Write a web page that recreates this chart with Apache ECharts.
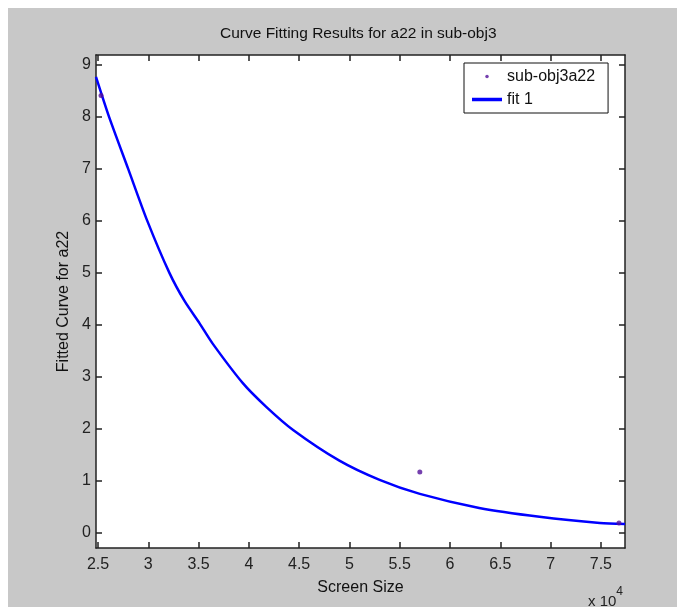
<!DOCTYPE html>
<html>
<head>
<meta charset="utf-8">
<script src="https://cdn.jsdelivr.net/npm/echarts@6/dist/echarts.min.js"></script>
<style>
  body { margin: 0; background: #fff; }
  #center { width: 677px; height: 607px; }
</style>
</head>
<body>
<div id="center"></div>
<script>
// 数据 (x 轴单位: 10^4)
var pointX = [2.53, 5.7, 7.68];
var pointY = [8.41, 1.17, 0.19];
var fitX = [2.48, 2.61, 2.8, 2.99, 3.21, 3.36, 3.51, 3.64, 3.94, 4.17, 4.44, 4.9, 5.3, 5.7, 6.29, 6.89, 7.49, 7.74];
var fitY = [8.77, 8.0, 7.0, 6.0, 5.0, 4.46, 4.03, 3.64, 2.88, 2.43, 1.98, 1.39, 1.02, 0.75, 0.48, 0.31, 0.19, 0.17];
var xTicks = [2.5, 3, 3.5, 4, 4.5, 5, 5.5, 6, 6.5, 7, 7.5];
var yTicks = [0, 1, 2, 3, 4, 5, 6, 7, 8, 9];

var myChart = echarts.init(document.getElementById("center"), null, {
  width: 677,
  height: 607,
});

var font = "Liberation Sans";
var axisColor = "#222";

function pairs(xs, ys) {
  var out = [];
  for (var i = 0; i < xs.length; i++) out.push([xs[i], ys[i]]);
  return out;
}

// 四边都有刻度, 只在左/下显示标签
function makeAxis(pos, isX, showLabel) {
  return {
    type: "value",
    position: pos,
    min: isX ? 2.48 : -0.29,
    max: isX ? 7.74 : 9.19,
    name: showLabel ? (isX ? "Screen Size" : "Fitted Curve for a22") : "",
    nameLocation: "middle",
    nameGap: isX ? 32 : 24,
    nameTextStyle: { fontFamily: font, fontSize: 16, color: "#111" },
    axisLine: { show: true, onZero: false, lineStyle: { color: axisColor, width: 1.5 } },
    axisTick: {
      show: true,
      inside: true,
      length: 6,
      customValues: isX ? xTicks : yTicks,
      lineStyle: { color: axisColor, width: 1.5 },
    },
    axisLabel: {
      show: showLabel,
      customValues: isX ? xTicks : yTicks,
      margin: isX ? 9 : 5,
      fontFamily: font,
      fontSize: 16,
      color: "#222",
    },
    splitLine: { show: false },
  };
}

var option = {
  animation: false,
  backgroundColor: "#fff",
  title: {
    text: "Curve Fitting Results for a22 in sub-obj3",
    left: 215,
    top: 21,
    textStyle: { fontFamily: font, fontSize: 15.5, fontWeight: "normal", color: "#111" },
  },
  graphic: [
    // 灰色窗口背景
    { type: "rect", left: 8, top: 8, z: -10, shape: { width: 669, height: 599 }, style: { fill: "#c8c8c8" } },
    {
      type: "text",
      left: 588,
      top: 586,
      style: {
        text: "{a|x 10}{b|4}",
        rich: {
          a: { fontFamily: font, fontSize: 15, fill: "#222", padding: [8, 0, 0, 0] },
          b: { fontFamily: font, fontSize: 12, fill: "#222", verticalAlign: "top" },
        },
      },
    },
  ],
  grid: {
    left: 96,
    right: 52,
    top: 55,
    bottom: 59,
    show: true,
    backgroundColor: "#fff",
    borderWidth: 0,
  },
  legend: {
    orient: "vertical",
    left: 464,
    top: 63,
    padding: [5, 13, 5, 8],
    itemGap: 6,
    itemWidth: 30,
    itemHeight: 3.5,
    backgroundColor: "#fff",
    borderColor: "#111",
    borderWidth: 1,
    textStyle: { fontFamily: font, fontSize: 16, color: "#111", lineHeight: 17 },
    data: [
      { name: "sub-obj3a22", icon: "circle" },
      { name: "fit 1", icon: "rect" },
    ],
  },
  xAxis: [makeAxis("bottom", true, true), makeAxis("top", true, false)],
  yAxis: [makeAxis("left", false, true), makeAxis("right", false, false)],
  series: [
    {
      name: "fit 1",
      type: "line",
      data: pairs(fitX, fitY),
      smooth: 0.25,
      showSymbol: false,
      lineStyle: { color: "#0000ff", width: 2.5 },
      itemStyle: { color: "#0000ff" },
      z: 2,
    },
    {
      name: "sub-obj3a22",
      type: "scatter",
      data: pairs(pointX, pointY),
      symbolSize: 5,
      itemStyle: { color: "#52109a" },
      z: 3,
    },
  ],
};

myChart.setOption(option);
</script>
</body>
</html>
